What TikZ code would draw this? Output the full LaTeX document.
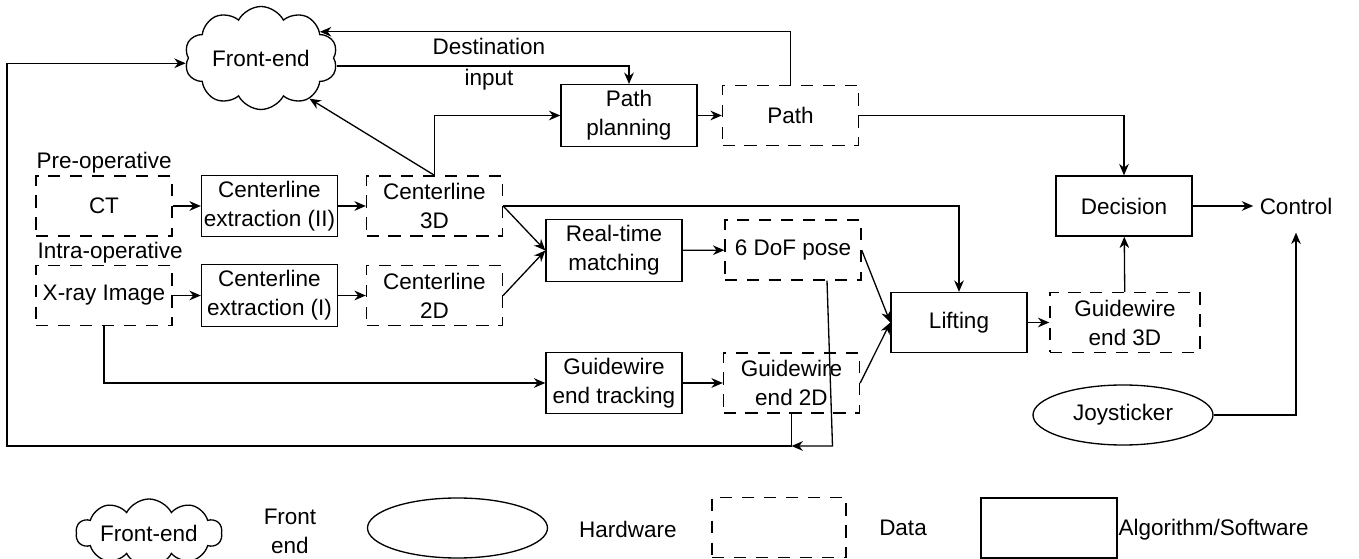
\documentclass[tikz,border=0pt]{standalone}
\usepackage{fontspec}
\setmainfont{Liberation Sans}
\usetikzlibrary{shapes.symbols,shapes.geometric,arrows.meta}
\tikzset{
  algbox/.style={draw, rectangle, minimum width=2.72cm, minimum height=1.2cm, inner xsep=1pt, align=center},
  datbox/.style={algbox, dash pattern=on 7pt off 5.5pt},
  hwell/.style={draw, ellipse, minimum width=3.6cm, minimum height=1.2cm},
  fecloud/.style={draw, cloud, cloud puffs=10, cloud puff arc=125, cloud ignores aspect, minimum width=3.06cm, minimum height=2.06cm, inner sep=0pt},
  arr/.style={-{Stealth[length=6.5pt,width=5.5pt]}},
}
\begin{document}
\begin{tikzpicture}[line width=0.75pt, font=\fontsize{12.8}{16.5}\selectfont]
        \useasboundingbox (0,0) rectangle (27.18,-11.18);
        % Front-end
        \node[fecloud] (front) at (5.22,-1.16) {Front-end};
        \node[align=center, font=\fontsize{12.8}{17.6}\selectfont] (dest) at (9.78,-1.29) {Destination\\input};
        % praeoperativer Zweig
        \node[right, inner sep=0pt] (preop) at (0.72,-3.26) {Pre-operative};
        \node[datbox] (ct) at (2.08,-4.12) {CT};
        \node[algbox] (ce2) at (5.39,-4.12) {Centerline\\extraction (II)};
        \node[datbox] (c3d) at (8.69,-4.12) {Centerline\\3D};
        % intraoperativer Zweig
        \node[right, inner sep=0pt] (intraop) at (0.74,-5.06) {Intra-operative};
        \node[datbox] (xray) at (2.08,-5.91) {X-ray Image};
        \node[algbox] (ce1) at (5.39,-5.91) {Centerline\\extraction (I)};
        \node[datbox] (c2d) at (8.69,-5.91) {Centerline\\2D};
        % Pfadplanung
        \node[algbox] (plan) at (12.58,-2.31) {Path\\planning};
        \node[datbox] (path) at (15.81,-2.31) {Path};
        % Matching und Tracking
        \node[algbox] (rtm) at (12.28,-5.01) {Real-time\\matching};
        \node[datbox] (pose) at (15.86,-5.0) {6 DoF pose};
        \node[algbox] (gtrack) at (12.28,-7.66) {Guidewire\\end tracking};
        \node[datbox] (ge2d) at (15.83,-7.66) {Guidewire\\end 2D};
        \node[algbox] (lift) at (19.18,-6.45) {Lifting};
        \node[datbox, minimum width=3cm] (ge3d) at (22.5,-6.45) {Guidewire\\end 3D};
        % Entscheidung und Steuerung
        \node[algbox] (dec) at (22.48,-4.12) {Decision};
        \node[minimum height=1.04cm] (ctrl) at (25.92,-4.12) {Control};
        \node[hwell] (joy) at (22.46,-8.3) {Joysticker};

        % Verbindungen
        \draw[arr] (ct) -- (ce2);
        \draw[arr] (ce2) -- (c3d);
        \draw[arr] (xray) -- (ce1);
        \draw[arr] (ce1) -- (c2d);
        \draw[arr] (c3d.north) |- (plan);
        \draw[arr] (c3d.north) -- (front.-40);
        \draw[arr] (front.-6) -| (plan);
        \draw[arr] (plan) -- (path);
        \draw[arr] (path) |- (front.24);
        \draw[arr] (path) -| (dec);
        \draw[arr] (c3d) -| (lift);
        \draw[arr] (c3d.east) -- (rtm.west);
        \draw[arr] (c2d.east) -- (rtm.west);
        \draw[arr] (rtm) -- (pose);
        \draw[arr] (pose.east) -- (lift.west);
        \draw[arr] (ge2d.east) -- (lift.west);
        \draw[arr] (xray) |- (gtrack);
        \draw[arr] (gtrack) -- (ge2d);
        \draw[arr] (lift) -- (ge3d);
        \draw[arr] (ge3d) -- (dec);
        \draw[arr] (dec) -- (ctrl);
        \draw[arr] (joy) -| (ctrl);
        % Rueckfuehrung zum Front-end
        \coordinate (fb) at (0.14,-8.92);
        \draw[arr] (ge2d.south) |- (fb) |- (front.184);
        \draw[arr] ([xshift=.68cm]pose.south) -- ([xshift=.82cm]ge2d.south |- fb) -- (ge2d.south |- fb);

        % Legende
        \node[fecloud, minimum width=2.92cm, minimum height=1.36cm] (lfront) at (2.98,-10.66) {Front-end};
        \node[align=center] (lfronttxt) at (5.8,-10.62) {Front\\end};
        \node[hwell] (lhw) at (9.15,-10.56) {};
        \node (lhwtxt) at (12.56,-10.58) {Hardware};
        \node[datbox, minimum width=2.68cm] (ldat) at (15.58,-10.55) {};
        \node (ldattxt) at (18.06,-10.56) {Data};
        \node[algbox] (lalg) at (20.98,-10.56) {};
        \node[right, inner sep=0pt] (lalgtxt) at (22.36,-10.6) {Algorithm/Software};
    \end{tikzpicture}
\end{document}
